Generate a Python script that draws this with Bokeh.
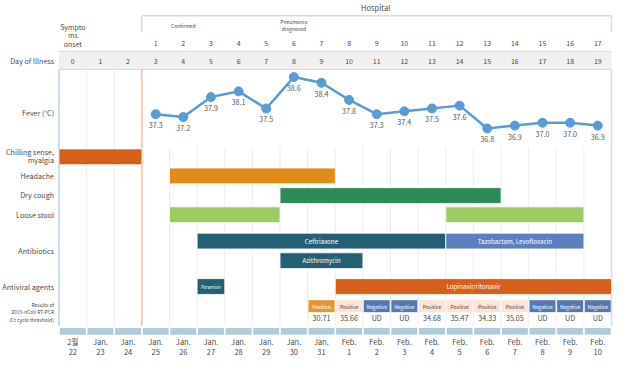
from bokeh.plotting import figure
from bokeh.models import Range1d
from bokeh.core.properties import value
from bokeh.embed import file_html
from bokeh.resources import INLINE

FONT = "Noto Sans CJK KR"

# ---------------- data ----------------
day_of_illness = list(range(20))
hospital_day = list(range(1, 18))            # hospital days 1..17 -> illness days 3..19
hospital_illness_day = list(range(3, 20))
date_month = ["2월"] + ["Jan."] * 9 + ["Feb."] * 10
date_day = ["22", "23", "24", "25", "26", "27", "28", "29", "30", "31",
            "1", "2", "3", "4", "5", "6", "7", "8", "9", "10"]

fever_day = list(range(3, 20))
fever_c = [37.3, 37.2, 37.9, 38.1, 37.5, 38.6, 38.4, 37.8, 37.3, 37.4,
           37.5, 37.6, 36.8, 36.9, 37.0, 37.0, 36.9]

bar_row = ["chill", "headache", "cough", "stool", "stool",
           "abx1", "abx1", "abx2", "antiviral", "antiviral"]
bar_start = [0, 4, 8, 4, 14, 5, 14, 8, 5, 10]
bar_end = [2, 9, 15, 7, 18, 13, 18, 10, 5, 19]
bar_label = ["", "", "", "", "", "Ceftriaxone", "Tazobactam, Levofloxacin",
             "Azithromycin", "Peramivir", "Lopinavir/ritonavir"]

pcr_day = list(range(9, 20))
pcr_result = ["Positive", "Positive", "Negative", "Negative", "Positive", "Positive",
              "Positive", "Positive", "Negative", "Negative", "Negative"]
pcr_ct = ["30.71", "35.66", "UD", "UD", "34.68", "35.47", "34.33", "35.05", "UD", "UD", "UD"]

# ---------------- layout ----------------
W, H = 614, 360
SX, SY = W / 630.0, H / 376.0
LEFT_PX = 60 * SX
RIGHT_PX = 627 * SX
CW = (RIGHT_PX - LEFT_PX) / 20.0
X0 = -0.5 - LEFT_PX / CW
X1 = X0 + W / CW


def Y(ref):
    return ref * SY


def XR(ref):
    return X0 + ref * SX / CW


# fever scale: 38.6 at ref y 80, 29.8 ref px per degree
T_BOTTOM = 38.6 - (376 - 80) / 29.8
T_TOP = 38.6 + 80 / 29.8

p = figure(width=W, height=H, x_range=Range1d(X0, X1), y_range=Range1d(H, 0),
           x_axis_location=None, y_axis_location=None,
           output_backend="svg", toolbar_location=None, min_border=0)
p.grid.visible = False
p.outline_line_color = None
p.background_fill_color = "white"
p.extra_y_ranges = {"temp": Range1d(T_BOTTOM, T_TOP)}

TXT = "#4a4a4a"


def label(x, y, text, size="7.5px", align="center", color=TXT, baseline="middle", **kw):
    p.text(x=x, y=y, text=text, text_font=value(FONT), text_font_size=size,
           text_align=align, text_baseline=baseline, text_color=color, **kw)


# hospital bracket
p.segment(x0=[2.5], y0=[Y(16)], x1=[19.5], y1=[Y(16)], line_color="#D3DAE0", line_width=1.5)
p.segment(x0=[2.5, 19.5], y0=[Y(16), Y(16)], x1=[2.5, 19.5], y1=[Y(33), Y(33)],
          line_color="#D3DAE0", line_width=1.5)
label([XR(385)], [Y(7)], ["Hospital"], size="7.5px")

label([0, 0, 0], [Y(28), Y(36.5), Y(45)], ["Sympto", "ms", "onset"], size="7px")
label([4], [Y(26)], ["Confirmed"], size="5px")
label([8, 8], [Y(22), Y(29)], ["Pneumonia", "diagnosed"], size="5px")
label(hospital_illness_day, [Y(44)] * len(hospital_day), [str(d) for d in hospital_day], size="7px")

# day of illness band
p.quad(left=[-0.5], right=[19.5], top=[Y(53)], bottom=[Y(72)], fill_color="#F0F0F0",
       line_color=None)
p.segment(x0=[-0.5, -0.5], y0=[Y(53), Y(72)], x1=[19.5, 19.5], y1=[Y(53), Y(72)],
          line_color="#D9D9D9", line_width=1)
label(day_of_illness, [Y(63)] * 20, [str(d) for d in day_of_illness], size="7px")

# grid lines
g_early = [0.5, 1.5]
g_late = [b + 0.5 for b in range(3, 19)]
p.segment(x0=g_early, y0=[Y(72)] * 2, x1=g_early, y1=[Y(340)] * 2, line_color="#EDEDED", line_width=1)
p.segment(x0=g_late, y0=[Y(153)] * len(g_late), x1=g_late, y1=[Y(340)] * len(g_late),
          line_color="#EDEDED", line_width=1)
p.segment(x0=[-0.5], y0=[Y(72)], x1=[-0.5], y1=[Y(340)], line_color="#B9D3E3", line_width=1.5)
p.segment(x0=[19.5], y0=[Y(72)], x1=[19.5], y1=[Y(340)], line_color="#D3DAE0", line_width=1.5)
p.segment(x0=[2.5], y0=[Y(72)], x1=[2.5], y1=[Y(340)], line_color="#F4B183", line_width=1.2)

# row labels
lx = XR(55)
RL = "7.2px"
label([lx], [Y(63)], ["Day of Illness"], align="right", size=RL)
label([lx], [Y(117)], ["Fever (°C)"], align="right", size=RL)
label([lx, lx], [Y(158), Y(167)], ["Chilling sense,", "myalgia"], align="right", size=RL)
label([lx], [Y(183)], ["Headache"], align="right", size=RL)
label([lx], [Y(203.5)], ["Dry cough"], align="right", size=RL)
label([lx], [Y(224)], ["Loose stool"], align="right", size=RL)
label([lx], [Y(262)], ["Antibiotics"], align="right", size=RL)
label([lx], [Y(299)], ["Antiviral agents"], align="right", size=RL)
label([lx, lx, lx], [Y(317), Y(325), Y(333)],
      ["Results of", "2019-nCoV RT-PCR", "(Ct cycle threshold)"], align="right", size="5px")

# fever
p.line(fever_day, fever_c, y_range_name="temp", line_color="#5B9BD5", line_width=2.5)
p.scatter(fever_day, fever_c, y_range_name="temp", size=9, fill_color="#5B9BD5",
          line_color="#5B9BD5")
label(fever_day, fever_c, [f"{v:.1f}" for v in fever_c], size="7.2px", color="#595959",
      baseline="top", y_range_name="temp", y_offset=8)

# bars
row_top = {"chill": 155, "headache": 175, "cough": 195.5, "stool": 215.5,
           "abx1": 243, "abx2": 263.5, "antiviral": 290.5}
bar_h = 16.5
colors = ["#D65F1C", "#E08B16", "#2E8B57", "#9CCB64", "#9CCB64",
          "#245F73", "#5B7FBF", "#245F73", "#245F73", "#D65F1C"]
lefts = [s - 0.5 for s in bar_start]
rights = [e + 0.5 for e in bar_end]
tops = [Y(row_top[r]) for r in bar_row]
bots = [Y(row_top[r] + bar_h) for r in bar_row]
p.quad(left=lefts, right=rights, top=tops, bottom=bots, fill_color=colors,
       line_color="white", line_width=0.8)
mids = [(a + b) / 2 for a, b in zip(lefts, rights)]
ymids = [(a + b) / 2 for a, b in zip(tops, bots)]
sizes = ["4.5px" if l == "Peramivir" else "6.2px" for l in bar_label]
for x, y, t, s in zip(mids, ymids, bar_label, sizes):
    if t:
        label([x], [y], [t], size=s, color="white")

# PCR results
tag_colors = []
tag_text_colors = []
for i, r in enumerate(pcr_result):
    if r == "Negative":
        tag_colors.append("#5778B4")
        tag_text_colors.append("white")
    elif i == 0:
        tag_colors.append("#E7962B")
        tag_text_colors.append("white")
    else:
        tag_colors.append("#FBE3D5")
        tag_text_colors.append(TXT)
p.quad(left=[d - 0.47 for d in pcr_day], right=[d + 0.47 for d in pcr_day],
       top=[Y(313)] * len(pcr_day), bottom=[Y(325.5)] * len(pcr_day),
       fill_color=tag_colors, line_color=None)
p.text(x=pcr_day, y=[Y(319.5)] * len(pcr_day), text=pcr_result, text_color=tag_text_colors,
       text_font=value(FONT), text_font_size="5px", text_align="center", text_baseline="middle")
label(pcr_day, [Y(332)] * len(pcr_day), pcr_ct, size="7.2px")

# timeline band
p.quad(left=[d - 0.47 for d in day_of_illness], right=[d + 0.47 for d in day_of_illness],
       top=[Y(342)] * 20, bottom=[Y(349)] * 20, fill_color="#B0CCD8", line_color=None)

label(day_of_illness, [Y(356)] * 20, date_month, size="7.5px")
label(day_of_illness, [Y(367)] * 20, date_day, size="7.5px")

open("out.html", "w").write(file_html(p, INLINE))
